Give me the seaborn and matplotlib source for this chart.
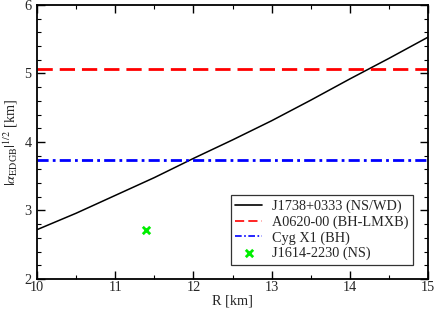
import matplotlib
matplotlib.use("Agg")
import matplotlib.pyplot as plt
import seaborn as sns
from matplotlib.ticker import MultipleLocator

sns.set_theme(style="ticks")
plt.rcParams['font.family'] = ['Liberation Serif', 'DejaVu Serif']
plt.rcParams['mathtext.fontset'] = 'stix'

# data
R_curve = [10.0, 10.5, 11.0, 11.5, 12.0, 12.5, 13.0, 13.5, 14.0, 14.5, 15.0]
alpha_curve = [2.72, 2.96, 3.22, 3.48, 3.76, 4.03, 4.31, 4.61, 4.92, 5.22, 5.53]
R_range = [10.0, 15.0]
alpha_A0620 = [5.06, 5.06]
alpha_CygX1 = [3.73, 3.73]
R_J1614 = [11.4]
alpha_J1614 = [2.72]

labels = ["J1738+0333 (NS/WD)", "A0620-00 (BH-LMXB)", "Cyg X1 (BH)", "J1614-2230 (NS)"]

FS = 10.3

fig = plt.figure(figsize=(4.36, 3.10), dpi=100)
ax = fig.add_axes([0.0849, 0.1, 0.8968, 0.884])

sns.lineplot(x=R_curve, y=alpha_curve, ax=ax, color='black', lw=1.1, label=labels[0])
sns.lineplot(x=R_range, y=alpha_A0620, ax=ax, color='#ff0000', lw=2.0,
             linestyle=(0, (5.5, 2.5)), label=labels[1])
sns.lineplot(x=R_range, y=alpha_CygX1, ax=ax, color='#0000ff', lw=2.0,
             linestyle=(0, (4, 1.5, 1, 1.5)), label=labels[2])
sns.scatterplot(x=R_J1614, y=alpha_J1614, ax=ax, color='#00ee00', marker='x',
                s=28, linewidth=2.0, label=labels[3], zorder=5)

ax.set_xlim(10, 15)
ax.set_ylim(2, 6)
ax.xaxis.set_major_locator(MultipleLocator(1))
ax.xaxis.set_minor_locator(MultipleLocator(0.5))
ax.yaxis.set_major_locator(MultipleLocator(1))
ax.yaxis.set_minor_locator(MultipleLocator(0.2))
ax.tick_params(which='both', direction='in', top=True, right=True, labelsize=FS,
               color='black')
ax.tick_params(axis='x', which='both', pad=1.5)
ax.tick_params(axis='y', which='both', pad=4)
ax.tick_params(which='major', length=6, width=1.0)
ax.tick_params(which='minor', length=3, width=0.8)
for s in ax.spines.values():
    s.set_linewidth(1.3)
    s.set_color('black')

ax.set_xlabel("R [km]", fontsize=FS, labelpad=0)
ax.set_ylabel(r"$|\alpha_{\rm EDGB}|^{1/2}$ [km]", fontsize=FS, labelpad=3)

leg = ax.legend(loc='lower right', bbox_to_anchor=(0.9616, 0.051), fontsize=FS,
                frameon=True, fancybox=False, handlelength=1.9, borderpad=0.33,
                labelspacing=0.15, handletextpad=0.65, borderaxespad=0)
leg.get_frame().set_edgecolor('black')
leg.get_frame().set_linewidth(0.9)
for h in leg.legend_handles[:3]:
    h.set_linewidth(1.2)

fig.savefig("out.png", dpi=100)
